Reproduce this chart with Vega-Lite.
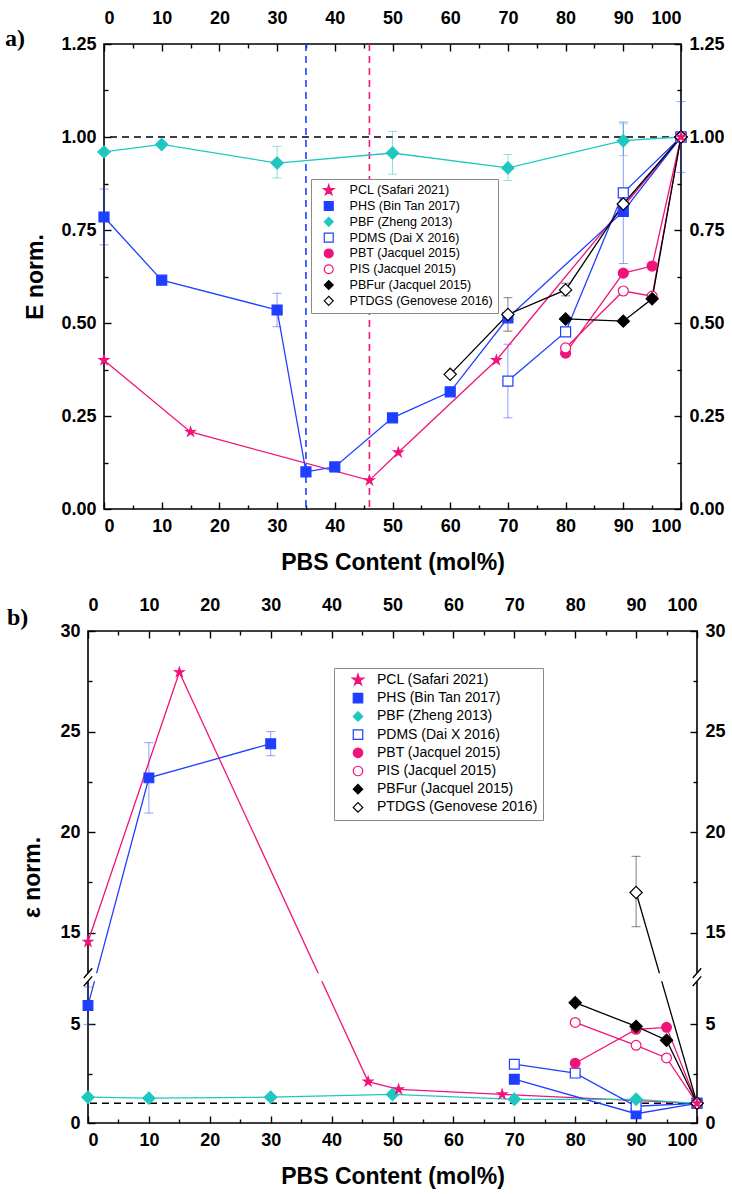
{
  "$schema": "https://vega.github.io/schema/vega-lite/v6.json",
  "padding": {"left": 4, "top": 8, "right": 5, "bottom": 5},
  "background": "white",
  "datasets": {
    "pa": [
      {"s": "PCL (Safari 2021)", "g": "1", "x": 0, "y": 0.40},
      {"s": "PCL (Safari 2021)", "g": "1", "x": 15, "y": 0.207},
      {"s": "PCL (Safari 2021)", "g": "1", "x": 46, "y": 0.077},
      {"s": "PCL (Safari 2021)", "g": "1", "x": 51, "y": 0.152},
      {"s": "PCL (Safari 2021)", "g": "1", "x": 68, "y": 0.40},
      {"s": "PCL (Safari 2021)", "g": "1", "x": 100, "y": 1.0},
      {"s": "PHS (Bin Tan 2017)", "g": "1", "x": 0, "y": 0.785, "lo": 0.71, "hi": 0.86},
      {"s": "PHS (Bin Tan 2017)", "g": "1", "x": 10, "y": 0.615},
      {"s": "PHS (Bin Tan 2017)", "g": "1", "x": 30, "y": 0.535, "lo": 0.49, "hi": 0.58},
      {"s": "PHS (Bin Tan 2017)", "g": "1", "x": 35, "y": 0.10},
      {"s": "PHS (Bin Tan 2017)", "g": "1", "x": 40, "y": 0.113, "lo": 0.10, "hi": 0.125},
      {"s": "PHS (Bin Tan 2017)", "g": "1", "x": 50, "y": 0.245},
      {"s": "PHS (Bin Tan 2017)", "g": "1", "x": 60, "y": 0.315},
      {"s": "PHS (Bin Tan 2017)", "g": "1", "x": 70, "y": 0.514},
      {"s": "PHS (Bin Tan 2017)", "g": "1", "x": 90, "y": 0.80},
      {"s": "PHS (Bin Tan 2017)", "g": "1", "x": 100, "y": 1.0, "lo": 0.905, "hi": 1.095},
      {"s": "PBF (Zheng 2013)", "g": "1", "x": 0, "y": 0.96},
      {"s": "PBF (Zheng 2013)", "g": "1", "x": 10, "y": 0.98},
      {"s": "PBF (Zheng 2013)", "g": "1", "x": 30, "y": 0.93, "lo": 0.89, "hi": 0.975},
      {"s": "PBF (Zheng 2013)", "g": "1", "x": 50, "y": 0.957, "lo": 0.90, "hi": 1.015},
      {"s": "PBF (Zheng 2013)", "g": "1", "x": 70, "y": 0.917, "lo": 0.883, "hi": 0.953},
      {"s": "PBF (Zheng 2013)", "g": "1", "x": 90, "y": 0.99, "lo": 0.95, "hi": 1.035},
      {"s": "PBF (Zheng 2013)", "g": "1", "x": 100, "y": 1.0},
      {"s": "PDMS (Dai X 2016)", "g": "1", "x": 70, "y": 0.344, "lo": 0.245, "hi": 0.443},
      {"s": "PDMS (Dai X 2016)", "g": "1", "x": 80, "y": 0.476},
      {"s": "PDMS (Dai X 2016)", "g": "1", "x": 90, "y": 0.85, "lo": 0.66, "hi": 1.04},
      {"s": "PDMS (Dai X 2016)", "g": "1", "x": 100, "y": 1.0},
      {"s": "PBT (Jacquel 2015)", "g": "1", "x": 80, "y": 0.419},
      {"s": "PBT (Jacquel 2015)", "g": "1", "x": 90, "y": 0.634},
      {"s": "PBT (Jacquel 2015)", "g": "1", "x": 95, "y": 0.653},
      {"s": "PBT (Jacquel 2015)", "g": "1", "x": 100, "y": 1.0},
      {"s": "PIS (Jacquel 2015)", "g": "1", "x": 80, "y": 0.433},
      {"s": "PIS (Jacquel 2015)", "g": "1", "x": 90, "y": 0.586},
      {"s": "PIS (Jacquel 2015)", "g": "1", "x": 95, "y": 0.572},
      {"s": "PIS (Jacquel 2015)", "g": "1", "x": 100, "y": 1.0},
      {"s": "PBFur (Jacquel 2015)", "g": "1", "x": 80, "y": 0.511},
      {"s": "PBFur (Jacquel 2015)", "g": "1", "x": 90, "y": 0.505},
      {"s": "PBFur (Jacquel 2015)", "g": "1", "x": 95, "y": 0.565},
      {"s": "PBFur (Jacquel 2015)", "g": "1", "x": 100, "y": 1.0},
      {"s": "PTDGS (Genovese 2016)", "g": "1", "x": 60, "y": 0.362},
      {"s": "PTDGS (Genovese 2016)", "g": "1", "x": 70, "y": 0.523, "lo": 0.478, "hi": 0.568},
      {"s": "PTDGS (Genovese 2016)", "g": "1", "x": 80, "y": 0.589, "lo": 0.573, "hi": 0.607},
      {"s": "PTDGS (Genovese 2016)", "g": "1", "x": 90, "y": 0.82},
      {"s": "PTDGS (Genovese 2016)", "g": "1", "x": 100, "y": 1.0}
    ],
    "pb": [
      {"s": "PCL (Safari 2021)", "g": "1", "x": 0, "y": 14.55},
      {"s": "PCL (Safari 2021)", "g": "1", "x": 15, "y": 27.95},
      {"s": "PCL (Safari 2021)", "g": "1", "x": 46, "y": 2.1},
      {"s": "PCL (Safari 2021)", "g": "1", "x": 51, "y": 1.7},
      {"s": "PCL (Safari 2021)", "g": "1", "x": 68, "y": 1.45},
      {"s": "PCL (Safari 2021)", "g": "1", "x": 100, "y": 1.0},
      {"s": "PHS (Bin Tan 2017)", "g": "1", "x": 0, "y": 5.96, "lo": 5.0, "hi": 6.9},
      {"s": "PHS (Bin Tan 2017)", "g": "1", "x": 10, "y": 22.7, "lo": 20.95, "hi": 24.45},
      {"s": "PHS (Bin Tan 2017)", "g": "1", "x": 30, "y": 24.4, "lo": 23.8, "hi": 25.0},
      {"s": "PHS (Bin Tan 2017)", "g": "2", "x": 70, "y": 2.22},
      {"s": "PHS (Bin Tan 2017)", "g": "2", "x": 90, "y": 0.47},
      {"s": "PHS (Bin Tan 2017)", "g": "2", "x": 100, "y": 1.0},
      {"s": "PBF (Zheng 2013)", "g": "1", "x": 0, "y": 1.31},
      {"s": "PBF (Zheng 2013)", "g": "1", "x": 10, "y": 1.26},
      {"s": "PBF (Zheng 2013)", "g": "1", "x": 30, "y": 1.31},
      {"s": "PBF (Zheng 2013)", "g": "1", "x": 50, "y": 1.45},
      {"s": "PBF (Zheng 2013)", "g": "1", "x": 70, "y": 1.2},
      {"s": "PBF (Zheng 2013)", "g": "1", "x": 90, "y": 1.2},
      {"s": "PBF (Zheng 2013)", "g": "1", "x": 100, "y": 1.0},
      {"s": "PDMS (Dai X 2016)", "g": "1", "x": 70, "y": 2.98},
      {"s": "PDMS (Dai X 2016)", "g": "1", "x": 80, "y": 2.53},
      {"s": "PDMS (Dai X 2016)", "g": "1", "x": 90, "y": 0.85},
      {"s": "PDMS (Dai X 2016)", "g": "1", "x": 100, "y": 1.0},
      {"s": "PBT (Jacquel 2015)", "g": "1", "x": 80, "y": 3.03},
      {"s": "PBT (Jacquel 2015)", "g": "1", "x": 90, "y": 4.75},
      {"s": "PBT (Jacquel 2015)", "g": "1", "x": 95, "y": 4.85},
      {"s": "PBT (Jacquel 2015)", "g": "1", "x": 100, "y": 1.0},
      {"s": "PIS (Jacquel 2015)", "g": "1", "x": 80, "y": 5.1},
      {"s": "PIS (Jacquel 2015)", "g": "1", "x": 90, "y": 3.94},
      {"s": "PIS (Jacquel 2015)", "g": "1", "x": 95, "y": 3.3},
      {"s": "PIS (Jacquel 2015)", "g": "1", "x": 100, "y": 1.0},
      {"s": "PBFur (Jacquel 2015)", "g": "1", "x": 80, "y": 6.1},
      {"s": "PBFur (Jacquel 2015)", "g": "1", "x": 90, "y": 4.9},
      {"s": "PBFur (Jacquel 2015)", "g": "1", "x": 95, "y": 4.2},
      {"s": "PBFur (Jacquel 2015)", "g": "1", "x": 100, "y": 1.0},
      {"s": "PTDGS (Genovese 2016)", "g": "1", "x": 90, "y": 17.0, "lo": 15.3, "hi": 18.8},
      {"s": "PTDGS (Genovese 2016)", "g": "1", "x": 100, "y": 1.0}
    ]
  },
  "vconcat": [
    {
      "width": 577,
      "height": 465,
      "title": {"text": "a)", "anchor": "start", "frame": "bounds", "font": "Liberation Serif", "fontSize": 24, "fontWeight": "bold", "color": "black", "dy": 46, "dx": -20},
      "data": {"name": "pa"},
      "resolve": {"axis": {"x": "independent", "y": "independent"}},
      "layer": [
        {
          "mark": {"type": "rule", "color": "#1f3fff", "strokeDash": [7, 5], "strokeWidth": 1.6},
          "data": {"values": [{"v": 35}]},
          "encoding": {"x": {"field": "v", "type": "quantitative", "scale": {"domain": [0, 100], "nice": false}, "axis": null}}
        },
        {
          "mark": {"type": "rule", "color": "#f0147a", "strokeDash": [7, 5], "strokeWidth": 1.6},
          "data": {"values": [{"v": 46}]},
          "encoding": {"x": {"field": "v", "type": "quantitative", "axis": null}}
        },
        {
          "mark": {"type": "rule", "color": "black", "strokeDash": [7, 5], "strokeWidth": 1.4},
          "data": {"values": [{"v": 1}]},
          "encoding": {"y": {"field": "v", "type": "quantitative", "scale": {"domain": [0, 1.25], "nice": false, "zero": false}, "axis": null}}
        },
        {
          "transform": [{"filter": "isValid(datum.lo)"}],
          "mark": {"type": "rule", "strokeWidth": 1, "opacity": 0.5},
          "encoding": {
            "x": {"field": "x", "type": "quantitative", "axis": {"orient": "bottom", "values": [5,15,25,35,45,55,65,75,85,95], "labels": false, "domain": false, "offset": -4, "tickSize": 4, "title": null}},
            "y": {"field": "lo", "type": "quantitative", "axis": {"orient": "left", "values": [0.125,0.375,0.625,0.875,1.125], "labels": false, "domain": false, "offset": -4, "tickSize": 4, "title": null}},
            "y2": {"field": "hi"},
            "color": {"field": "s", "type": "nominal", "legend": null, "scale": {"domain": ["PTDGS (Genovese 2016)", "PBFur (Jacquel 2015)", "PIS (Jacquel 2015)", "PBT (Jacquel 2015)", "PDMS (Dai X 2016)", "PBF (Zheng 2013)", "PHS (Bin Tan 2017)", "PCL (Safari 2021)"], "range": ["#000000", "#000000", "#f0147a", "#f0147a", "#1f3fff", "#1ec8c0", "#1f3fff", "#f0147a"]}}
          }
        },
        {
          "transform": [{"filter": "isValid(datum.lo)"}, {"fold": ["lo", "hi"], "as": ["k", "ev"]}],
          "mark": {"type": "tick", "orient": "horizontal", "size": 9, "thickness": 1, "opacity": 0.5},
          "encoding": {
            "x": {"field": "x", "type": "quantitative", "axis": {"orient": "top", "values": [5,15,25,35,45,55,65,75,85,95], "labels": false, "domain": false, "offset": -4, "tickSize": 4, "title": null}},
            "y": {"field": "ev", "type": "quantitative", "axis": {"orient": "right", "values": [0.125,0.375,0.625,0.875,1.125], "labels": false, "domain": false, "offset": -4, "tickSize": 4, "title": null}},
            "color": {"field": "s", "type": "nominal", "legend": null}
          }
        },
        {
          "mark": {"type": "line", "strokeWidth": 1.3},
          "encoding": {
            "x": {"field": "x", "type": "quantitative", "axis": {"orient": "bottom", "values": [0,10,20,30,40,50,60,70,80,90,100], "domain": false, "offset": -7, "tickSize": 7, "labelPadding": 8, "title": "PBS Content (mol%)", "titlePadding": 16}},
            "y": {"field": "y", "type": "quantitative", "axis": {"orient": "left", "values": [0,0.25,0.5,0.75,1,1.25], "format": ".2f", "domain": false, "offset": -7, "tickSize": 7, "labelPadding": 8, "title": "E norm.", "titlePadding": 13}},
            "color": {"field": "s", "type": "nominal", "legend": null},
            "detail": {"field": "g"}
          }
        },
        {
          "transform": [{"filter": "indexof(['PHS (Bin Tan 2017)', 'PDMS (Dai X 2016)', 'PBT (Jacquel 2015)', 'PIS (Jacquel 2015)'], datum.s) >= 0"}],
          "mark": {"type": "point", "filled": false, "strokeWidth": 1.2, "opacity": 1, "size": 100},
          "encoding": {
            "x": {"field": "x", "type": "quantitative", "axis": {"orient": "top", "values": [0,10,20,30,40,50,60,70,80,90,100], "domain": false, "offset": -7, "tickSize": 7, "labelPadding": 17, "title": null}},
            "y": {"field": "y", "type": "quantitative", "axis": {"orient": "right", "values": [0,0.25,0.5,0.75,1,1.25], "format": ".2f", "domain": false, "offset": -7, "tickSize": 7, "labelPadding": 8, "title": null}},
            "shape": {"field": "s", "type": "nominal", "scale": {"domain": ["PCL (Safari 2021)", "PHS (Bin Tan 2017)", "PBF (Zheng 2013)", "PDMS (Dai X 2016)", "PBT (Jacquel 2015)", "PIS (Jacquel 2015)", "PBFur (Jacquel 2015)", "PTDGS (Genovese 2016)"], "range": ["M0,-1.25L0.28,-0.38L1.19,-0.39L0.45,0.15L0.73,1.01L0,0.47L-0.73,1.01L-0.45,0.15L-1.19,-0.39L-0.28,-0.38Z", "square", "diamond", "square", "circle", "circle", "diamond", "diamond"]},
              "legend": {"orient": "none", "legendX": 207, "legendY": 135, "title": null, "strokeColor": "#8a8a8a", "fillColor": "white", "padding": 5, "labelFont": "Liberation Sans", "labelFontSize": 12.5, "labelColor": "black", "labelLimit": 400, "symbolSize": 80, "symbolOffset": 6.5, "labelOffset": 14.6, "rowPadding": 0.8, "symbolOpacity": 1, "symbolStrokeWidth": 1.2,
                "encode": {"symbols": {
                  "opacity": {"value": 1},
                  "size": {"value": 80},
                  "strokeWidth": {"value": 1.2},
                  "stroke": {"value": {"expr": "(datum.value == 'PCL (Safari 2021)' || datum.value == 'PBT (Jacquel 2015)' || datum.value == 'PIS (Jacquel 2015)') ? '#f0147a' : (datum.value == 'PHS (Bin Tan 2017)' || datum.value == 'PDMS (Dai X 2016)') ? '#1f3fff' : datum.value == 'PBF (Zheng 2013)' ? '#1ec8c0' : '#000000'"}},
                  "fill": {"value": {"expr": "(datum.value == 'PDMS (Dai X 2016)' || datum.value == 'PIS (Jacquel 2015)' || datum.value == 'PTDGS (Genovese 2016)') ? '#ffffff' : (datum.value == 'PCL (Safari 2021)' || datum.value == 'PBT (Jacquel 2015)') ? '#f0147a' : datum.value == 'PHS (Bin Tan 2017)' ? '#1f3fff' : datum.value == 'PBF (Zheng 2013)' ? '#1ec8c0' : '#000000'"}}
                }}}},
            "stroke": {"field": "s", "type": "nominal", "scale": {"domain": ["PCL (Safari 2021)", "PHS (Bin Tan 2017)", "PBF (Zheng 2013)", "PDMS (Dai X 2016)", "PBT (Jacquel 2015)", "PIS (Jacquel 2015)", "PBFur (Jacquel 2015)", "PTDGS (Genovese 2016)"], "range": ["#f0147a", "#1f3fff", "#1ec8c0", "#1f3fff", "#f0147a", "#f0147a", "#000000", "#000000"]}},
            "fill": {"field": "s", "type": "nominal", "scale": {"domain": ["PCL (Safari 2021)", "PHS (Bin Tan 2017)", "PBF (Zheng 2013)", "PDMS (Dai X 2016)", "PBT (Jacquel 2015)", "PIS (Jacquel 2015)", "PBFur (Jacquel 2015)", "PTDGS (Genovese 2016)"], "range": ["#f0147a", "#1f3fff", "#1ec8c0", "#ffffff", "#f0147a", "#ffffff", "#000000", "#ffffff"]}}
          }
        },
        {
          "transform": [{"filter": "indexof(['PBF (Zheng 2013)', 'PBFur (Jacquel 2015)', 'PTDGS (Genovese 2016)'], datum.s) >= 0"}],
          "mark": {"type": "point", "shape": "diamond", "filled": false, "strokeWidth": 1.2, "opacity": 1, "size": 150},
          "encoding": {
            "x": {"field": "x", "type": "quantitative", "axis": null},
            "y": {"field": "y", "type": "quantitative", "axis": null},
            "stroke": {"field": "s", "type": "nominal"},
            "fill": {"field": "s", "type": "nominal"}
          }
        },
        {
          "transform": [{"filter": "datum.s == 'PCL (Safari 2021)'"}],
          "mark": {"type": "point", "shape": "M0,-1L0.223,-0.307L0.951,-0.309L0.361,0.117L0.588,0.809L0,0.38L-0.588,0.809L-0.361,0.117L-0.951,-0.309L-0.223,-0.307Z", "filled": true, "color": "#f0147a", "opacity": 1, "size": 190},
          "encoding": {
            "x": {"field": "x", "type": "quantitative", "axis": null},
            "y": {"field": "y", "type": "quantitative", "axis": null}
          }
        }
      ]
    },
    {
      "width": 609,
      "height": 492,
      "title": {"text": "b)", "anchor": "start", "frame": "bounds", "font": "Liberation Serif", "fontSize": 24, "fontWeight": "bold", "color": "black", "dy": 38, "dx": -15},
      "data": {"name": "pb"},
      "resolve": {"axis": {"x": "independent", "y": "independent"}},
      "layer": [
        {
          "mark": {"type": "rule", "color": "black", "strokeDash": [7, 5], "strokeWidth": 1.4},
          "data": {"values": [{"v": 1}]},
          "encoding": {"y": {"field": "v", "type": "quantitative", "scale": {"domain": [0, 7.2, 13, 30], "range": [492, 350, 342, 0], "nice": false, "zero": false}, "axis": null}}
        },
        {
          "transform": [{"filter": "isValid(datum.lo)"}],
          "mark": {"type": "rule", "strokeWidth": 1, "opacity": 0.5},
          "encoding": {
            "x": {"field": "x", "type": "quantitative", "scale": {"domain": [0, 100], "nice": false}, "axis": {"orient": "bottom", "values": [5,15,25,35,45,55,65,75,85,95], "labels": false, "domain": false, "offset": -4, "tickSize": 4, "title": null}},
            "y": {"field": "lo", "type": "quantitative", "axis": {"orient": "left", "values": [2.5, 17.5, 22.5, 27.5], "labels": false, "domain": false, "offset": -4, "tickSize": 4, "title": null}},
            "y2": {"field": "hi"},
            "color": {"field": "s", "type": "nominal", "legend": null, "scale": {"domain": ["PTDGS (Genovese 2016)", "PBFur (Jacquel 2015)", "PIS (Jacquel 2015)", "PBT (Jacquel 2015)", "PDMS (Dai X 2016)", "PBF (Zheng 2013)", "PHS (Bin Tan 2017)", "PCL (Safari 2021)"], "range": ["#000000", "#000000", "#f0147a", "#f0147a", "#1f3fff", "#1ec8c0", "#1f3fff", "#f0147a"]}}
          }
        },
        {
          "transform": [{"filter": "isValid(datum.lo)"}, {"fold": ["lo", "hi"], "as": ["k", "ev"]}],
          "mark": {"type": "tick", "orient": "horizontal", "size": 9, "thickness": 1, "opacity": 0.5},
          "encoding": {
            "x": {"field": "x", "type": "quantitative", "axis": {"orient": "top", "values": [5,15,25,35,45,55,65,75,85,95], "labels": false, "domain": false, "offset": -4, "tickSize": 4, "title": null}},
            "y": {"field": "ev", "type": "quantitative", "axis": {"orient": "right", "values": [2.5, 17.5, 22.5, 27.5], "labels": false, "domain": false, "offset": -4, "tickSize": 4, "title": null}},
            "color": {"field": "s", "type": "nominal", "legend": null}
          }
        },
        {
          "mark": {"type": "line", "strokeWidth": 1.3},
          "encoding": {
            "x": {"field": "x", "type": "quantitative", "axis": {"orient": "bottom", "values": [0,10,20,30,40,50,60,70,80,90,100], "domain": false, "offset": -7, "tickSize": 7, "labelPadding": 8, "title": "PBS Content (mol%)", "titlePadding": 16}},
            "y": {"field": "y", "type": "quantitative", "axis": {"orient": "left", "values": [0, 5, 15, 20, 25, 30], "domain": false, "offset": -7, "tickSize": 7, "labelPadding": 8, "title": "ε norm.", "titlePadding": 15}},
            "color": {"field": "s", "type": "nominal", "legend": null},
            "detail": {"field": "g"}
          }
        },
        {
          "transform": [{"filter": "indexof(['PHS (Bin Tan 2017)', 'PDMS (Dai X 2016)', 'PBT (Jacquel 2015)', 'PIS (Jacquel 2015)'], datum.s) >= 0"}],
          "mark": {"type": "point", "filled": false, "strokeWidth": 1.2, "opacity": 1, "size": 95},
          "encoding": {
            "x": {"field": "x", "type": "quantitative", "axis": {"orient": "top", "values": [0,10,20,30,40,50,60,70,80,90,100], "domain": false, "offset": -7, "tickSize": 7, "labelPadding": 17, "title": null}},
            "y": {"field": "y", "type": "quantitative", "axis": {"orient": "right", "values": [0, 5, 15, 20, 25, 30], "domain": false, "offset": -7, "tickSize": 7, "labelPadding": 8, "title": null}},
            "shape": {"field": "s", "type": "nominal", "scale": {"domain": ["PCL (Safari 2021)", "PHS (Bin Tan 2017)", "PBF (Zheng 2013)", "PDMS (Dai X 2016)", "PBT (Jacquel 2015)", "PIS (Jacquel 2015)", "PBFur (Jacquel 2015)", "PTDGS (Genovese 2016)"], "range": ["M0,-1.25L0.28,-0.38L1.19,-0.39L0.45,0.15L0.73,1.01L0,0.47L-0.73,1.01L-0.45,0.15L-1.19,-0.39L-0.28,-0.38Z", "square", "diamond", "square", "circle", "circle", "diamond", "diamond"]},
              "legend": {"orient": "none", "legendX": 246, "legendY": 37, "title": null, "strokeColor": "#8a8a8a", "fillColor": "white", "padding": 5, "labelFont": "Liberation Sans", "labelFontSize": 14, "labelColor": "black", "labelLimit": 400, "symbolSize": 90, "symbolOffset": 12, "labelOffset": 12, "rowPadding": 2.2, "symbolOpacity": 1, "symbolStrokeWidth": 1.2,
                "encode": {"symbols": {
                  "opacity": {"value": 1},
                  "size": {"value": 90},
                  "strokeWidth": {"value": 1.2},
                  "stroke": {"value": {"expr": "(datum.value == 'PCL (Safari 2021)' || datum.value == 'PBT (Jacquel 2015)' || datum.value == 'PIS (Jacquel 2015)') ? '#f0147a' : (datum.value == 'PHS (Bin Tan 2017)' || datum.value == 'PDMS (Dai X 2016)') ? '#1f3fff' : datum.value == 'PBF (Zheng 2013)' ? '#1ec8c0' : '#000000'"}},
                  "fill": {"value": {"expr": "(datum.value == 'PDMS (Dai X 2016)' || datum.value == 'PIS (Jacquel 2015)' || datum.value == 'PTDGS (Genovese 2016)') ? '#ffffff' : (datum.value == 'PCL (Safari 2021)' || datum.value == 'PBT (Jacquel 2015)') ? '#f0147a' : datum.value == 'PHS (Bin Tan 2017)' ? '#1f3fff' : datum.value == 'PBF (Zheng 2013)' ? '#1ec8c0' : '#000000'"}}
                }}}},
            "stroke": {"field": "s", "type": "nominal", "scale": {"domain": ["PCL (Safari 2021)", "PHS (Bin Tan 2017)", "PBF (Zheng 2013)", "PDMS (Dai X 2016)", "PBT (Jacquel 2015)", "PIS (Jacquel 2015)", "PBFur (Jacquel 2015)", "PTDGS (Genovese 2016)"], "range": ["#f0147a", "#1f3fff", "#1ec8c0", "#1f3fff", "#f0147a", "#f0147a", "#000000", "#000000"]}},
            "fill": {"field": "s", "type": "nominal", "scale": {"domain": ["PCL (Safari 2021)", "PHS (Bin Tan 2017)", "PBF (Zheng 2013)", "PDMS (Dai X 2016)", "PBT (Jacquel 2015)", "PIS (Jacquel 2015)", "PBFur (Jacquel 2015)", "PTDGS (Genovese 2016)"], "range": ["#f0147a", "#1f3fff", "#1ec8c0", "#ffffff", "#f0147a", "#ffffff", "#000000", "#ffffff"]}}
          }
        },
        {
          "transform": [{"filter": "indexof(['PBF (Zheng 2013)', 'PBFur (Jacquel 2015)', 'PTDGS (Genovese 2016)'], datum.s) >= 0"}],
          "mark": {"type": "point", "shape": "diamond", "filled": false, "strokeWidth": 1.2, "opacity": 1, "size": 150},
          "encoding": {
            "x": {"field": "x", "type": "quantitative", "axis": null},
            "y": {"field": "y", "type": "quantitative", "axis": null},
            "stroke": {"field": "s", "type": "nominal"},
            "fill": {"field": "s", "type": "nominal"}
          }
        },
        {
          "transform": [{"filter": "datum.s == 'PCL (Safari 2021)'"}],
          "mark": {"type": "point", "shape": "M0,-1L0.223,-0.307L0.951,-0.309L0.361,0.117L0.588,0.809L0,0.38L-0.588,0.809L-0.361,0.117L-0.951,-0.309L-0.223,-0.307Z", "filled": true, "color": "#f0147a", "opacity": 1, "size": 190},
          "encoding": {
            "x": {"field": "x", "type": "quantitative", "axis": null},
            "y": {"field": "y", "type": "quantitative", "axis": null}
          }
        },
        {
          "mark": {"type": "rule", "color": "white", "strokeWidth": 8, "strokeCap": "square"},
          "data": {"values": [{"c": 10}]},
          "encoding": {
            "y": {"field": "c", "type": "quantitative", "axis": null}
          }
        },
        {
          "mark": {"type": "point", "shape": "M-0.7,0.13L0.7,-1.47M-0.7,1.47L0.7,-0.13", "size": 144, "stroke": "black", "strokeWidth": 1.4, "filled": false, "opacity": 1},
          "data": {"values": [{"bx": 0, "by": 10}, {"bx": 100, "by": 10}]},
          "encoding": {
            "x": {"field": "bx", "type": "quantitative", "axis": null},
            "y": {"field": "by", "type": "quantitative", "axis": null}
          }
        }
      ]
    }
  ],
  "spacing": 122,
  "bounds": "flush",
  "center": true,
  "resolve": {"scale": {"stroke": "independent", "fill": "independent", "shape": "independent", "color": "independent"}},
  "config": {
    "view": {"stroke": "black", "strokeWidth": 1.6},
    "axis": {"grid": false, "domainColor": "black", "domainWidth": 1.6, "tickColor": "black", "tickWidth": 1.4, "labelFont": "Liberation Sans", "labelFontWeight": "bold", "labelFontSize": 18, "labelColor": "black", "titleFont": "Liberation Sans", "titleFontWeight": "bold", "titleFontSize": 23, "titleColor": "black"}
  }
}
